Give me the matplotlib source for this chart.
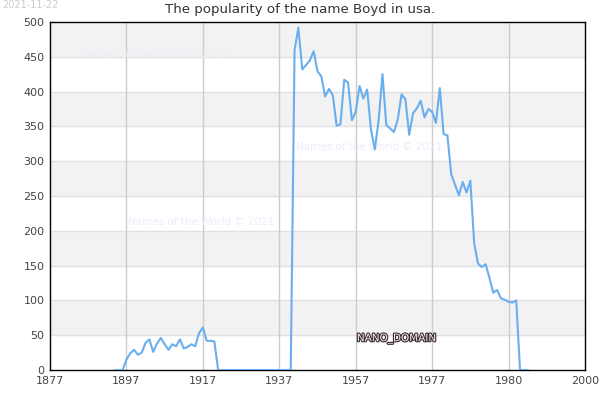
import matplotlib
matplotlib.use("Agg")
import matplotlib.pyplot as plt
import matplotlib.patheffects as pe

# yearly counts, one row per decade
years = list(range(1894, 2003))
counts = ([0, 0, 0, 15, 24, 29] +
          [22, 25, 39, 44, 26, 38, 46, 37, 29, 37] +
          [34, 44, 31, 33, 37, 34, 53, 61, 42, 42] +
          [41, 0, 0, 0, 0, 0, 0, 0, 0, 0] +
          [0, 0, 0, 0, 0, 0, 0, 0, 0, 0] +
          [0, 460, 492, 432, 438, 445, 458, 429, 422, 393] +
          [404, 395, 351, 353, 417, 413, 359, 371, 408, 390] +
          [403, 345, 317, 359, 425, 352, 347, 342, 360, 396] +
          [389, 338, 369, 376, 387, 363, 375, 371, 355, 405] +
          [339, 337, 281, 266, 251, 270, 255, 272, 182, 153] +
          [148, 152, 132, 111, 115, 103, 101, 98, 97, 100] +
          [0, 0, 0])

tick_pos = [1877, 1897, 1917, 1937, 1957, 1977, 1997, 2017]
tick_labels = ['1877', '1897', '1917', '1937', '1957', '1977', '1980', '2000']
y_ticks = [0, 50, 100, 150, 200, 250, 300, 350, 400, 450, 500]

fig = plt.figure(figsize=(6, 4), dpi=100)
ax = fig.add_axes([50 / 600, 30 / 400, 535 / 600, 348 / 400])

# alternating bands
for i, lo in enumerate(y_ticks[:-1]):
    if i % 2 == 1:
        ax.axhspan(lo, lo + 50, color='#f2f2f2', zorder=0, lw=0)
for y in y_ticks[1:-1]:
    ax.axhline(y, color='#e0e0e0', lw=1, zorder=1)
for x in tick_pos[1:-1]:
    ax.axvline(x, color='#cccccc', lw=1, zorder=1)

ax.plot(years, counts, color='#6aaef0', lw=1.5, zorder=3)

ax.set_xlim(1877, 2017)
ax.set_ylim(0, 500)
ax.set_xticks(tick_pos)
ax.set_xticklabels(tick_labels)
ax.set_yticks(y_ticks)
ax.tick_params(length=0, labelsize=8, colors='#444444', pad=4)
for s in ax.spines.values():
    s.set_color('black')
    s.set_linewidth(1)

fig.text(300 / 600, 1 - 10 / 400, 'The popularity of the name Boyd in usa.',
         ha='center', va='center', fontsize=9.6, color='#333333')
fig.text(2 / 600, 1, '2021-11-22', ha='left', va='top', fontsize=7, color='#cccccc')

wm = dict(fontsize=7.5, color='#ececfa', zorder=2)
ax.text(1885.5, 453, 'Names of the World © 2021', ha='left', va='center', **wm)
ax.text(1941.5, 320, 'Names of the World © 2021', ha='left', va='center', **wm)
ax.text(1897.5, 212, 'Names of the World © 2021', ha='left', va='center', **wm)

t = ax.text(1957.3, 45, 'NANO_DOMAIN', ha='left', va='center', fontsize=7.5,
            color='#f4eeee', zorder=4)
t.set_path_effects([pe.withStroke(linewidth=1.6, foreground='#3b2a2e')])

fig.savefig('out.png', dpi=100)
